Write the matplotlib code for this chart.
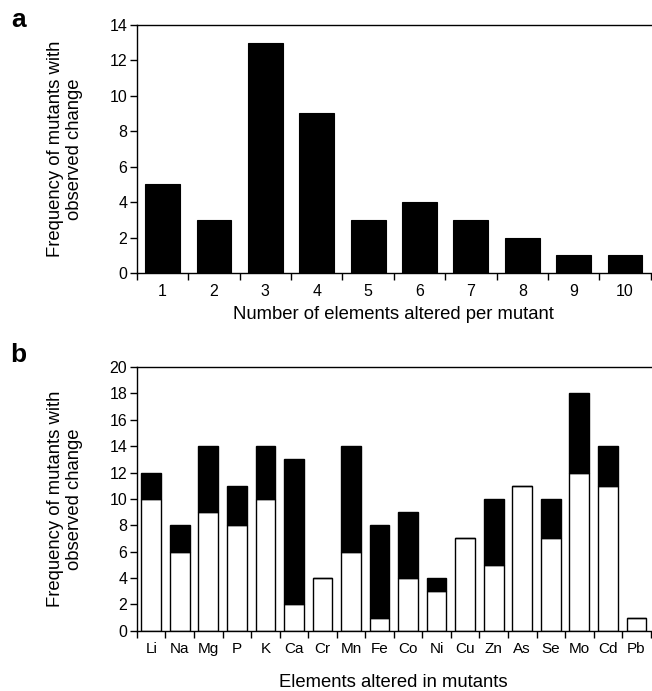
import matplotlib.pyplot as plt
import numpy as np

plt.rcParams['font.family'] = ['Liberation Sans', 'DejaVu Sans']

# panel a data
n_altered = [1, 2, 3, 4, 5, 6, 7, 8, 9, 10]
freq_a = [5, 3, 13, 9, 3, 4, 3, 2, 1, 1]

# panel b data
elements = ["Li", "Na", "Mg", "P", "K", "Ca", "Cr", "Mn", "Fe", "Co",
            "Ni", "Cu", "Zn", "As", "Se", "Mo", "Cd", "Pb"]
white_part = [10, 6, 9, 8, 10, 2, 4, 6, 1, 4, 3, 7, 5, 11, 7, 12, 11, 1]
black_part = [2, 2, 5, 3, 4, 11, 0, 8, 7, 5, 1, 0, 5, 0, 3, 6, 3, 0]

fig = plt.figure(figsize=(6.52, 6.91), dpi=100)
ax1 = fig.add_axes([0.210, 0.605, 0.788, 0.359])
ax2 = fig.add_axes([0.210, 0.087, 0.788, 0.382])


def style_axis(ax, n, ymax, ystep, labels):
    ax.set_xlim(0.5, n + 0.5)
    ax.set_ylim(0, ymax)
    ax.set_yticks(np.arange(0, ymax + 1, ystep))
    ax.set_xticks(np.arange(1, n + 1))
    ax.set_xticklabels(labels)
    ax.set_xticks(np.arange(0.5, n + 1.0, 1.0), minor=True)
    ax.tick_params(axis='x', which='major', length=0, pad=8, labelsize=11.5)
    ax.tick_params(axis='x', which='minor', length=5, width=1, direction='out')
    ax.tick_params(axis='y', length=5, width=1, direction='out', labelsize=11.5, pad=2)
    ax.spines['right'].set_visible(False)
    for s in ['left', 'bottom', 'top']:
        ax.spines[s].set_linewidth(1.0)
    ax.set_ylabel("Frequency of mutants with\nobserved change", fontsize=13.3,
                  linespacing=1.15, labelpad=19)


# panel a
ax1.bar(n_altered, freq_a, width=0.68, color='black', edgecolor='black', linewidth=0.8)
style_axis(ax1, len(n_altered), 14, 2, [str(v) for v in n_altered])
ax1.set_xlabel("Number of elements altered per mutant", fontsize=13.3, labelpad=5)

# panel b
x = np.arange(1, len(elements) + 1)
ax2.bar(x, white_part, width=0.69, color='white', edgecolor='black', linewidth=1.0)
ax2.bar(x, black_part, width=0.69, bottom=white_part, color='black',
        edgecolor='black', linewidth=1.0)
style_axis(ax2, len(elements), 20, 2, elements)
ax2.tick_params(axis='x', which='major', labelsize=11, pad=8)
ax2.set_xlabel("Elements altered in mutants", fontsize=13.3, labelpad=13)

fig.text(0.028, 0.971, "a", fontsize=19, fontweight='bold', va='center', ha='center')
fig.text(0.028, 0.486, "b", fontsize=19, fontweight='bold', va='center', ha='center')

fig.savefig("out.png", dpi=100)
